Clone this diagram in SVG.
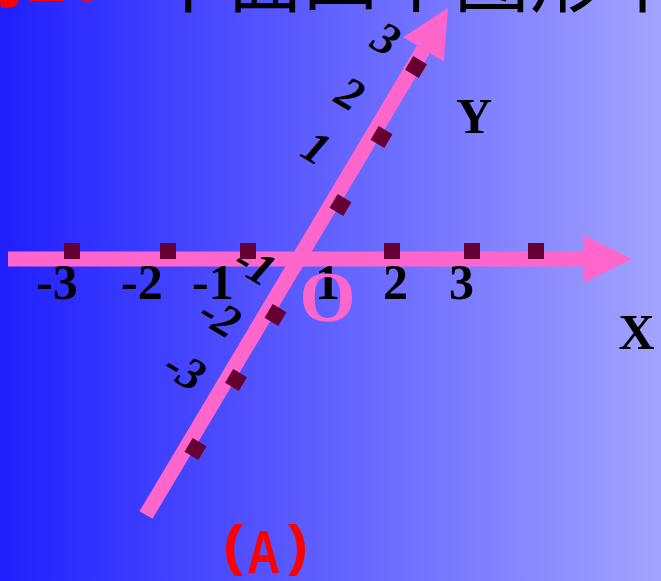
<svg xmlns="http://www.w3.org/2000/svg" width="661" height="581" viewBox="0 0 661 581">
  <defs>
    <linearGradient id="bg" x1="0" y1="0" x2="1" y2="0">
      <stop offset="0" stop-color="#1f1fff"/>
      <stop offset="1" stop-color="#a3a3ff"/>
    </linearGradient>
  </defs>
  <style>
    .axis { stroke: #ff66cc; stroke-width: 15; stroke-linecap: butt; fill: none; }
    .head { fill: #ff66cc; }
    .tick { fill: #660033; }
    .num { font-family: "Liberation Serif", "Times New Roman", serif; font-weight: bold; font-size: 50px; fill: #000; }
    .ynum { font-family: "Liberation Serif", "Times New Roman", serif; font-style: italic; font-weight: bold; font-size: 46px; fill: #000; text-anchor: middle; }
    .title { font-family: "Noto Sans CJK SC", sans-serif; font-size: 75.5px; }
    .cap { font-family: "Liberation Sans Narrow", "Liberation Sans", sans-serif; font-weight: bold; fill: #ff0000; }
  </style>
  <rect width="661" height="581" fill="url(#bg)"/>

  <g id="title">
    <text class="title" x="-52" y="1" fill="#ff0000" font-weight="bold">例1：</text>
    <text class="title" x="152" y="6" fill="#000">下面四个图形中</text>
  </g>

  <g id="connectors">
    <g id="x-axis">
      <line class="axis" x1="8" y1="259" x2="584" y2="259"/>
      <polygon class="head" points="632,259 583,235 583,283"/>
    </g>
    <g id="y-axis">
      <line class="axis" x1="146" y1="515" x2="423.5" y2="49.3"/>
      <polygon class="head" points="448,8 403.3,37.3 443.7,61.3"/>
    </g>
  </g>

  <g id="x-ticks">
    <rect class="tick" x="64" y="243" width="16" height="16"/>
    <rect class="tick" x="160" y="243" width="16" height="16"/>
    <rect class="tick" x="240" y="243" width="16" height="16"/>
    <rect class="tick" x="384" y="243" width="16" height="16"/>
    <rect class="tick" x="464" y="243" width="16" height="16"/>
    <rect class="tick" x="528" y="243" width="16" height="16"/>
  </g>

  <g id="y-ticks">
    <rect class="tick" x="-8" y="-8" width="16" height="16" transform="translate(416,67) rotate(30.7)"/>
    <rect class="tick" x="-8" y="-8" width="16" height="16" transform="translate(381.5,137) rotate(30.7)"/>
    <rect class="tick" x="-8" y="-8" width="16" height="16" transform="translate(340.5,205) rotate(30.7)"/>
    <rect class="tick" x="-8" y="-8" width="16" height="16" transform="translate(275.5,315) rotate(30.7)"/>
    <rect class="tick" x="-8" y="-8" width="16" height="16" transform="translate(236,380) rotate(30.7)"/>
    <rect class="tick" x="-8" y="-8" width="16" height="16" transform="translate(195.5,449) rotate(30.7)"/>
  </g>

  <g id="x-labels">
    <text class="num" x="36" y="299">-3</text>
    <text class="num" x="121" y="299">-2</text>
    <text class="num" x="192" y="299">-1</text>
    <text class="num" x="315" y="299">1</text>
    <text class="num" x="383" y="299">2</text>
    <text class="num" x="449" y="299">3</text>
  </g>

  <g id="y-labels">
    <text class="ynum" y="15" transform="translate(386,39) rotate(30.7)">3</text>
    <text class="ynum" y="15" transform="translate(350,94) rotate(30.7)">2</text>
    <text class="ynum" y="15" transform="translate(316,148) rotate(30.7)">1</text>
    <text class="ynum" y="15" transform="translate(255,265) rotate(30.7)">-1</text>
    <text class="ynum" y="15" transform="translate(220,317) rotate(30.7)">-2</text>
    <text class="ynum" y="15" transform="translate(185,370) rotate(30.7)">-3</text>
  </g>

  <g id="origin">
    <text x="299.5" y="321" font-family="Liberation Serif, serif" font-weight="bold" font-size="72" fill="#ff66cc">O</text>
  </g>
  <g id="axis-names">
    <text class="num" x="618.5" y="349">X</text>
    <text class="num" x="456" y="133">Y</text>
  </g>
  <g id="caption">
    <text class="cap" y="564" font-size="56"><tspan x="223" textLength="20" lengthAdjust="spacingAndGlyphs">(</tspan><tspan x="247" y="573" font-size="62" textLength="33" lengthAdjust="spacingAndGlyphs">A</tspan><tspan x="288" y="564" textLength="20" lengthAdjust="spacingAndGlyphs">)</tspan></text>
  </g>
</svg>
